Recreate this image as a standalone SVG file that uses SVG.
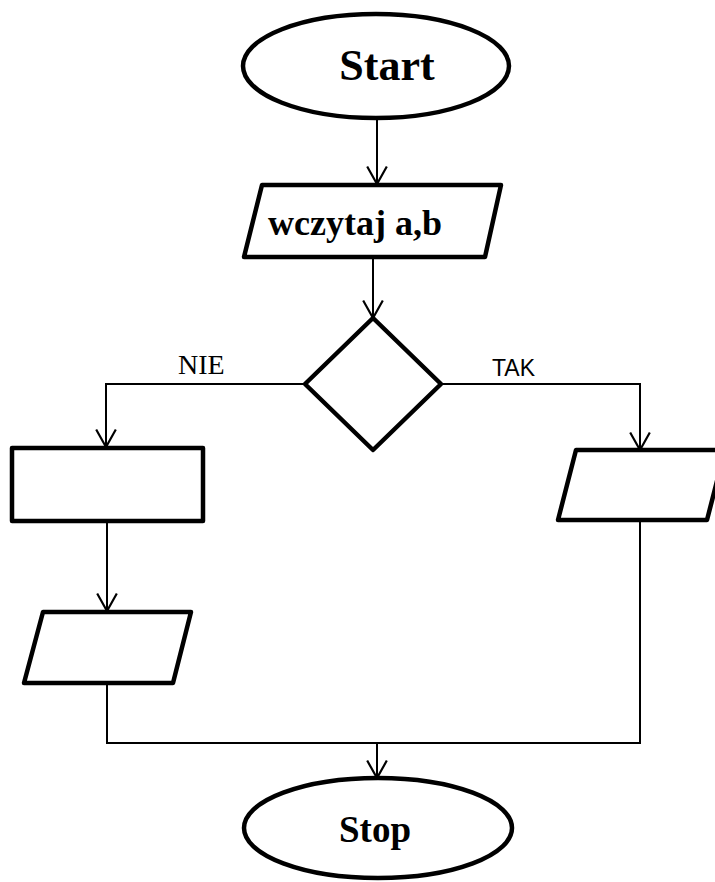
<svg xmlns="http://www.w3.org/2000/svg" width="715" height="882" viewBox="0 0 715 882">
<style>
.shape{fill:#fff;stroke:#000;stroke-width:4.5;stroke-linejoin:round}
.conn{fill:none;stroke:#000;stroke-width:2}
.title{font-family:"Liberation Serif",serif;font-weight:bold;fill:#000}
</style>
<defs>
<marker id="arr" markerUnits="userSpaceOnUse" markerWidth="24" markerHeight="24" viewBox="-1 -11 18 22" refX="16" refY="0" orient="auto">
<path d="M0,-9 L16,0 L0,9" fill="none" stroke="#000" stroke-width="2"/>
</marker>
</defs>
<rect width="715" height="882" fill="#fff"/>
<g id="connectors">
<line class="conn" x1="377" y1="118" x2="377" y2="184" marker-end="url(#arr)"/>
<line class="conn" x1="373" y1="257" x2="373" y2="318" marker-end="url(#arr)"/>
<polyline class="conn" points="305,384 106,384 106,447" marker-end="url(#arr)"/>
<polyline class="conn" points="441,384 640,384 640,450" marker-end="url(#arr)"/>
<line class="conn" x1="107" y1="521" x2="107" y2="611" marker-end="url(#arr)"/>
<polyline class="conn" points="107,683 107,743 640,743 640,520"/>
<line class="conn" x1="377" y1="743" x2="377" y2="778" marker-end="url(#arr)"/>
<text x="178" y="374" font-family="Liberation Serif, serif" font-size="28">NIE</text>
<text x="492" y="376" font-family="Liberation Sans, sans-serif" font-size="23">TAK</text>
</g>
<g id="start">
<ellipse class="shape" cx="376" cy="66" rx="133" ry="52"/>
<text class="title" x="387" y="80" font-size="44" text-anchor="middle">Start</text>
</g>
<g id="input">
<polygon class="shape" points="262,185 501,185 485,257 244,257"/>
<text class="title" x="268" y="235" font-size="36">wczytaj a,b</text>
</g>
<g id="decision">
<polygon class="shape" points="373,318 441,384 373,450 305,384"/>
</g>
<g id="process">
<rect class="shape" x="12" y="448" width="191" height="73"/>
</g>
<g id="output-left">
<polygon class="shape" points="43,612 191,612 173,683 24,683"/>
</g>
<g id="output-right">
<polygon class="shape" points="576,450 725,450 707,520 558,520"/>
</g>
<g id="stop">
<ellipse class="shape" cx="378" cy="828" rx="134" ry="50"/>
<text class="title" x="375" y="842" font-size="37" text-anchor="middle">Stop</text>
</g>
</svg>
